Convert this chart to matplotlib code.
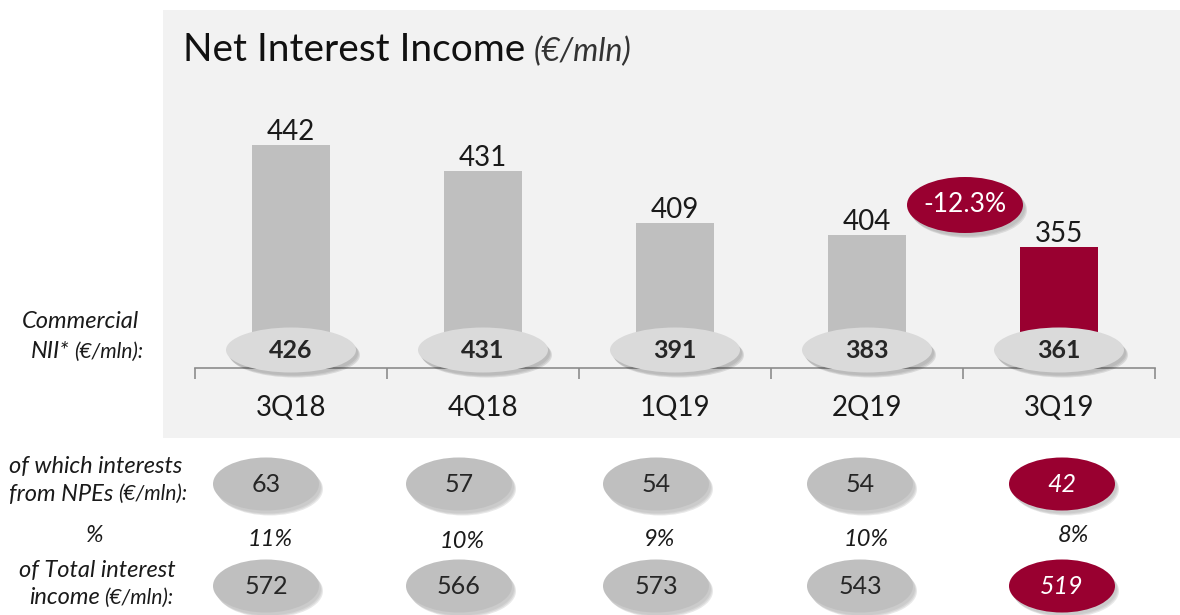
import matplotlib
matplotlib.use("Agg")
import matplotlib.pyplot as plt
from matplotlib.patches import Ellipse, Rectangle

# ---------------- data ----------------
quarters = ["3Q18", "4Q18", "1Q19", "2Q19", "3Q19"]
nii_labels = [442, 431, 409, 404, 355]          # values printed above bars
nii_bar_heights = [442, 431, 409, 404, 399]     # bar heights as drawn in the reference
commercial_nii = [426, 431, 391, 383, 361]
npe_interest = [63, 57, 54, 54, 42]
npe_pct = ["11%", "10%", "9%", "10%", "8%"]
total_interest = [572, 566, 573, 543, 519]
change_label = "-12.3%"

# ---------------- style ----------------
W, H = 1180, 615
GRAY_BAR = "#BFBFBF"
RED = "#990030"
PANEL = "#F2F2F2"
TXT = "#1A1A1A"
FONT = ["Lato", "DejaVu Sans"]
plt.rcParams["font.family"] = FONT

fig = plt.figure(figsize=(W / 100, H / 100), dpi=100)
fig.patch.set_facecolor("white")

def fx(x):
    return x / W

def fy(y):
    return 1 - y / H

# gray panel
fig.patches.append(Rectangle((fx(163), fy(438)), fx(1180) - fx(163), fy(10) - fy(438),
                             transform=fig.transFigure, facecolor=PANEL, edgecolor="none", zorder=-5))

# ---------------- bar axes ----------------
ax_left, ax_right, ax_bot, ax_top = 195, 1155, 368, 10
ax = fig.add_axes([fx(ax_left), fy(ax_bot), fx(ax_right) - fx(ax_left), fy(ax_top) - fy(ax_bot)])
ax.set_facecolor("none")
px_per_unit = (235 - 145) / (442 - 404)
ymin = 442 - (368 - 145) / px_per_unit
ymax = 442 + (145 - 10) / px_per_unit
ax.set_xlim(-0.5, len(quarters) - 0.5)
ax.set_ylim(ymin, ymax)

x = list(range(len(quarters)))
colors = [GRAY_BAR] * (len(quarters) - 1) + [RED]
ax.bar(x, nii_bar_heights, width=0.41, color=colors, zorder=2)

for xi, h, lab in zip(x, nii_bar_heights, nii_labels):
    ax.annotate(str(lab), (xi, h), xytext=(0, 3.5), textcoords="offset points",
                ha="center", va="baseline", fontsize=20, color=TXT, zorder=5)

for s in ["top", "right", "left"]:
    ax.spines[s].set_visible(False)
ax.spines["bottom"].set_color("#8C8C8C")
ax.spines["bottom"].set_linewidth(1.2)
ax.set_yticks([])
ax.set_xticks([i - 0.5 for i in range(len(quarters) + 1)])
ax.set_xticklabels([])
ax.tick_params(axis="x", length=8, width=1.2, color="#8C8C8C", direction="out")

# category labels
for xi, q in zip(x, quarters):
    ax.text(xi, -40 / (ax_bot - ax_top), q, transform=ax.get_xaxis_transform(),
            ha="center", va="center", fontsize=20, color=TXT)

# commercial NII ellipses on the axis
ell_w = 130 / 192
ell_h = 45 / px_per_unit
ell_y = 442 - (350 - 145) / px_per_unit
for xi, v in zip(x, commercial_nii):
    for k, a in enumerate([0.06, 0.08, 0.10]):
        ax.add_patch(Ellipse((xi + (2 + k) / 192, ell_y - (3 + k) / px_per_unit), ell_w, ell_h,
                             facecolor="black", alpha=a, edgecolor="none", zorder=3, clip_on=False))
    ax.add_patch(Ellipse((xi, ell_y), ell_w, ell_h, facecolor="#DADADA",
                         edgecolor="none", zorder=4, clip_on=False))
    ax.text(xi, ell_y, str(v), ha="center", va="center", fontsize=18, fontweight="bold",
            color="#262626", zorder=5, clip_on=False)

# ---------------- overlay axes (pixel coordinates) ----------------
ov = fig.add_axes([0, 0, 1, 1])
ov.set_xlim(0, W)
ov.set_ylim(H, 0)
ov.axis("off")
ov.set_facecolor("none")

# title
t = ov.text(183, 50, "Net Interest Income", fontsize=28,
            ha="left", va="center", color="#111111")
fig.canvas.draw()
bb = t.get_window_extent()
tx_end = bb.x1
ov.text(tx_end + 8, 52, "(€/mln)", fontsize=23, style="italic",
        ha="left", va="center", color="#333333")

def shadow_ellipse(cx, cy, w, h, face):
    for k, a in enumerate([0.05, 0.07, 0.09]):
        ov.add_patch(Ellipse((cx + 2 + k, cy + 3 + k), w, h, facecolor="black",
                             alpha=a, edgecolor="none", zorder=2))
    ov.add_patch(Ellipse((cx, cy), w, h, facecolor=face, edgecolor="none", zorder=3))

# change bubble
shadow_ellipse(965, 205, 116, 56, RED)
ov.text(965, 205, change_label, ha="center", va="center", fontsize=19,
        color="white", zorder=4)

# left labels
ov.text(139, 322, "Commercial", ha="right", va="center", fontsize=17, style="italic", color=TXT)
lab = ov.text(143, 352, "(€/mln):", ha="right", va="center", fontsize=15, style="italic", color=TXT)
fig.canvas.draw()
lb = lab.get_window_extent()
ov.text(lb.x0 - 4, 352, "NII*", ha="right", va="center", fontsize=17, style="italic", color=TXT)

def two_size_line(cx, cy, big, small, big_fs=17, small_fs=15):
    # centered line made of a big part and a smaller "(€/mln):" part
    r = fig.canvas.get_renderer()
    t1 = ov.text(0, cy, big, fontsize=big_fs, style="italic", va="center", ha="left", color=TXT)
    t2 = ov.text(0, cy, small, fontsize=small_fs, style="italic", va="center", ha="left", color=TXT)
    w1 = t1.get_window_extent(r).width
    w2 = t2.get_window_extent(r).width
    total = w1 + w2 + 4
    x0 = cx - total / 2
    t1.set_x(x0)
    t2.set_x(x0 + w1 + 4)

ov.text(96, 466, "of which interests", ha="center", va="center", fontsize=17, style="italic", color=TXT)
two_size_line(98, 494, "from NPEs", "(€/mln):")
ov.text(95, 535, "%", ha="center", va="center", fontsize=17, style="italic", color=TXT)
ov.text(97, 570, "of Total interest", ha="center", va="center", fontsize=17, style="italic", color=TXT)
two_size_line(101, 598, "income", "(€/mln):")

# bottom rows
row_x = [266, 459, 656, 860, 1062]
pct_x = [270, 462, 660, 866, 1073]
pct_y = [540, 542, 540, 540, 536]
row1_y, row2_y = 484, 586
bw, bh = 106, 53
n = len(quarters)
for i in range(n):
    last = i == n - 1
    face = RED if last else GRAY_BAR
    tc = "white" if last else "#262626"
    st = "italic" if last else "normal"
    shadow_ellipse(row_x[i], row1_y, bw, bh, face)
    ov.text(row_x[i], row1_y, str(npe_interest[i]), ha="center", va="center",
            fontsize=18, color=tc, style=st, zorder=4)
    shadow_ellipse(row_x[i], row2_y, bw, bh, face)
    ov.text(row_x[i], row2_y, str(total_interest[i]), ha="center", va="center",
            fontsize=18, color=tc, style=st, zorder=4)
    ov.text(pct_x[i], pct_y[i], npe_pct[i], ha="center", va="center",
            fontsize=17, style="italic", color=TXT, zorder=4)

fig.savefig("out.png", dpi=100, facecolor="white")
